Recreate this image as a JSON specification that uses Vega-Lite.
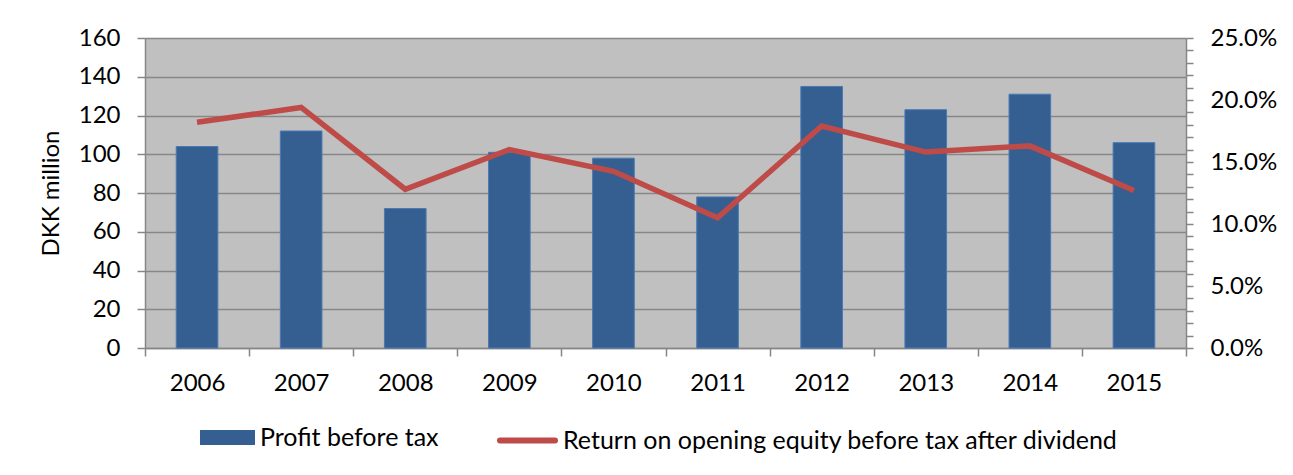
{
  "$schema": "https://vega.github.io/schema/vega-lite/v6.json",
  "width": 1041,
  "height": 310,
  "autosize": {"type": "none"},
  "padding": {"left": 145, "top": 38, "right": 107, "bottom": 127},
  "background": "white",
  "config": {
    "font": "Lato",
    "view": {"fill": "#C0C0C0", "stroke": null},
    "axis": {
      "labelColor": "black",
      "titleColor": "black",
      "labelFontSize": 24,
      "titleFontSize": 24,
      "titleFontWeight": "normal",
      "domainColor": "#868686",
      "domainWidth": 1.5,
      "tickColor": "#868686",
      "tickWidth": 1.5
    },
    "legend": {
      "labelFontSize": 25,
      "labelColor": "black",
      "labelLimit": 0,
      "symbolSize": 3025,
      "labelOffset": 5,
      "padding": 0,
      "title": null,
      "orient": "none",
      "direction": "horizontal"
    }
  },
  "data": {
    "values": [
      {"year": "2006", "profit": 104, "roe": 0.182},
      {"year": "2007", "profit": 112, "roe": 0.194},
      {"year": "2008", "profit": 72, "roe": 0.128},
      {"year": "2009", "profit": 101, "roe": 0.160},
      {"year": "2010", "profit": 98, "roe": 0.1425},
      {"year": "2011", "profit": 78, "roe": 0.105},
      {"year": "2012", "profit": 135, "roe": 0.179},
      {"year": "2013", "profit": 123, "roe": 0.158},
      {"year": "2014", "profit": 131, "roe": 0.163},
      {"year": "2015", "profit": 106, "roe": 0.127}
    ]
  },
  "encoding": {
    "x": {
      "field": "year",
      "type": "ordinal",
      "scale": {"paddingInner": 0, "paddingOuter": 0},
      "axis": {
        "title": null,
        "tickBand": "extent",
        "labelAngle": 0,
        "labelPadding": 15,
        "tickSize": 8
      }
    }
  },
  "layer": [
    {
      "mark": {"type": "bar", "width": {"band": 0.4}, "stroke": "#4A7AB5", "strokeWidth": 1},
      "encoding": {
        "y": {
          "field": "profit",
          "type": "quantitative",
          "scale": {"domain": [0, 160], "nice": false},
          "axis": {
            "title": "DKK million",
            "values": [0, 20, 40, 60, 80, 100, 120, 140, 160],
            "grid": true,
            "gridColor": "#878787",
            "gridWidth": 1.5,
            "tickSize": 8,
            "labelPadding": 17,
            "titlePadding": 15
          }
        },
        "fill": {
          "datum": "Profit before tax",
          "type": "nominal",
          "scale": {"domain": ["Profit before tax"], "range": ["#365F91"]},
          "legend": {
            "legendX": 55,
            "legendY": 372,
            "symbolType": "M-1,-0.27H1V0.27H-1Z",
            "symbolStrokeWidth": 0,
            "symbolOpacity": 1
          }
        }
      }
    },
    {
      "mark": {"type": "line", "strokeWidth": 5.5},
      "encoding": {
        "y": {
          "field": "roe",
          "type": "quantitative",
          "scale": {"domain": [0, 0.25], "nice": false},
          "axis": {
            "orient": "right",
            "title": null,
            "grid": false,
            "values": [0, 0.01, 0.02, 0.03, 0.04, 0.05, 0.06, 0.07, 0.08, 0.09, 0.1, 0.11, 0.12, 0.13, 0.14, 0.15, 0.16, 0.17, 0.18, 0.19, 0.2, 0.21, 0.22, 0.23, 0.24, 0.25],
            "labelExpr": "round(datum.value * 100) % 5 === 0 ? format(datum.value, '.1%') : ''",
            "labelOverlap": false,
            "labelBound": false,
            "tickSize": 7,
            "labelPadding": 17
          }
        },
        "stroke": {
          "datum": "Return on opening equity before tax after dividend",
          "type": "nominal",
          "scale": {"domain": ["Return on opening equity before tax after dividend"], "range": ["#BE4B48"]},
          "legend": {
            "legendX": 352,
            "legendY": 372,
            "symbolType": "stroke",
            "symbolStrokeWidth": 6,
            "symbolOpacity": 1,
            "encode": {"symbols": {"update": {"strokeCap": {"value": "round"}}}}
          }
        }
      }
    }
  ],
  "resolve": {"scale": {"y": "independent"}}
}
